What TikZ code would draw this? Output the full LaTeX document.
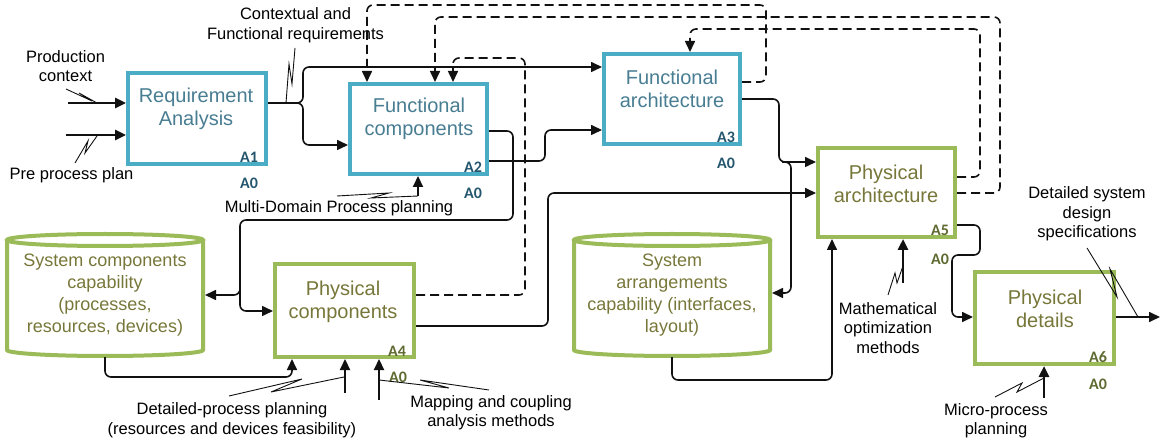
\documentclass[tikz,border=0pt]{standalone}
\usepackage{fontspec}
\setmainfont{Liberation Sans}
\newfontfamily\idfont{Carlito}
\usetikzlibrary{arrows.meta}
\definecolor{boxblue}{HTML}{4BACC6}
\definecolor{boxgreen}{HTML}{9BBB59}
\definecolor{txtblue}{HTML}{487D92}
\definecolor{txtgreen}{HTML}{77773A}
\definecolor{idblue}{HTML}{24566E}
\definecolor{idgreen}{HTML}{5E6A30}
\definecolor{linec}{HTML}{111111}
\begin{document}
\begin{tikzpicture}[x=1pt,y=-1pt,
  bluebox/.style={draw=boxblue,line width=4pt,inner sep=0pt,fill=white},
  greenbox/.style={draw=boxgreen,line width=4pt,inner sep=0pt,fill=white},
  cylline/.style={draw=boxgreen,line width=4pt},
  btext/.style={text=txtblue,align=center,inner sep=0pt,font=\fontsize{20}{23}\selectfont},
  gtext/.style={text=txtgreen,align=center,inner sep=0pt,font=\fontsize{20}{23}\selectfont},
  ctext/.style={text=txtgreen,align=center,inner sep=0pt,font=\fontsize{18}{22}\selectfont},
  lbl/.style={text=black,align=center,inner sep=0pt,font=\fontsize{16.5}{19.5}\selectfont},
  idb/.style={text=idblue,inner sep=0pt,font=\idfont\bfseries\fontsize{16}{16}\selectfont},
  idg/.style={text=idgreen,inner sep=0pt,font=\idfont\bfseries\fontsize{16}{16}\selectfont},
  conn/.style={draw=linec,line width=1.6pt,rounded corners=6pt},
  thickline/.style={line width=2.6pt},
  dconn/.style={conn,dash pattern=on 9pt off 5pt},
  tip/.style={-{Triangle[length=11pt,width=10pt]}},
  squig/.style={draw=linec,line width=0.9pt}
]
\useasboundingbox (0,0) rectangle (1161,443);

% ---------- boxes ----------
\node[bluebox,minimum width=138pt,minimum height=91pt] (a1) at (197,118.5) {};
\node[bluebox,minimum width=137pt,minimum height=90pt] (a2) at (418.5,129) {};
\node[bluebox,minimum width=136pt,minimum height=90pt] (a3) at (672,99) {};
\node[greenbox,minimum width=139pt,minimum height=93pt] (a4) at (344.5,310.5) {};
\node[greenbox,minimum width=137pt,minimum height=89pt] (a5) at (886.5,192.5) {};
\node[greenbox,minimum width=139pt,minimum height=92pt] (a6) at (1044.5,318) {};

\node[btext] (a1t) at (196,108.5) {Requirement\\Analysis};
\node[btext] (a2t) at (419,119) {Functional\\components};
\node[btext] (a3t) at (672,88.5) {Functional\\architecture};
\node[gtext] (a4t) at (343,301.5) {Physical\\components};
\node[gtext] (a5t) at (886,183.5) {Physical\\architecture};
\node[gtext] (a6t) at (1045,308.5) {Physical\\details};

\node[idb] (a1id) at (249,157) {A1};
\node[idb] (a1a0) at (249,183) {A0};
\node[idb] (a2id) at (473,167) {A2};
\node[idb] (a2a0) at (473,193) {A0};
\node[idb] (a3id) at (726,137) {A3};
\node[idb] (a3a0) at (726,163) {A0};
\node[idg] (a4id) at (397,351) {A4};
\node[idg] (a4a0) at (398,377) {A0};
\node[idg] (a5id) at (940,230) {A5};
\node[idg] (a5a0) at (940,259) {A0};
\node[idg] (a6id) at (1098,357) {A6};
\node[idg] (a6a0) at (1098,384) {A0};

% ---------- cylinders ----------
\draw[cylline] (7,240) -- (7,350) arc[start angle=180,end angle=360,x radius=98pt,y radius=6pt] -- (203,240);
\draw[cylline] (105,240) ellipse[x radius=98pt,y radius=6pt];
\node[ctext] (cyl1) at (105,295) {System components\\capability\\(processes,\\resources, devices)};
\coordinate (cyl1e) at (205,295);
\coordinate (cyl1s) at (105,357);

\draw[cylline] (574,240) -- (574,350) arc[start angle=180,end angle=360,x radius=98pt,y radius=6pt] -- (770,240);
\draw[cylline] (672,240) ellipse[x radius=98pt,y radius=6pt];
\node[ctext] (cyl2) at (672,295.5) {System\\arrangements\\capability (interfaces,\\layout)};
\coordinate (cyl2e) at (772,293);
\coordinate (cyl2s) at (672,357);

% ---------- labels ----------
\node[lbl] (lpc) at (65.5,66) {Production\\context};
\node[lbl] (lpp) at (71.5,175) {Pre process plan};
\node[lbl] (lcf) at (295.5,25) {Contextual and\\Functional requirements};
\node[lbl] (lmd) at (339,208) {Multi-Domain Process planning};
\node[lbl] (ldp) at (232,420) {Detailed-process planning\\(resources and devices feasibility)};
\node[lbl] (lmc) at (491,412.5) {Mapping and coupling\\analysis methods};
\node[lbl] (lmo) at (888,328) {Mathematical\\optimization\\methods};
\node[lbl] (lds) at (1087,214) {Detailed system\\design\\specifications};
\node[lbl] (lmp) at (996,420.5) {Micro-process\\planning};

% ---------- inputs ----------
\coordinate (pc) at (68,103);
\coordinate (pp) at (66,135);
\draw[conn,thickline,tip] (pc) -- (a1.west |- pc);
\draw[conn,thickline,tip] (pp) -- (a1.west |- pp);

% ---------- solid connectors ----------
\coordinate (f1) at (303,103);
\draw[conn,tip] (a1.east |- f1) -- (f1) -- (303,67) -- (a3.west |- 0,67);
\draw[conn,tip] (a1.east |- f1) -- (f1) -- (303,145) -- (a2.west |- 0,145);

\draw[conn,tip] (a2.east |- 0,161) -- (545,161) -- (545,130) -- (a3.west |- 0,130);

\coordinate (f2) at (240,288);
\draw[conn,tip] (a2.east |- 0,131) -- (513,131) -- (513,220) -- (240,220) -- (f2 |- cyl1e) -- (cyl1e);
\draw[conn,tip] (f2) -- (240,311) -- (a4.west |- 0,311);

\coordinate (f3) at (782,162);
\draw[conn,tip] (a3.east |- 0,99) -- (779,99) -- (779,162) -- (a5.west |- 0,162);
\draw[conn,tip] (f3) -- (791,162) -- (791,293) -- (cyl2e);

\draw[conn,tip] (a4.east |- 0,326) -- (548,326) -- (548,193) -- (a5.west |- 0,193);

\draw[conn,tip] (cyl2s) -- (672,380) -- (832,380) -- (a5.south -| 832,0);
\draw[conn,tip] (cyl1s) -- (105,377) -- (292,377) -- (a4.south -| 292,0);

\draw[conn,tip] (a5.east |- 0,225) -- (980,225) -- (980,255) -- (952,255) -- (952,317) -- (a6.west |- 0,317);
\coordinate (out6) at (1160,317);
\draw[conn,tip] (a6.east |- out6) -- (out6);

% ---------- mechanism / control arrows ----------
\coordinate (mo) at (903,283);
\coordinate (mp) at (1044,398);
\coordinate (dp) at (345,393);
\coordinate (mc) at (379,400);
\coordinate (md) at (418,196);
\draw[conn,thickline,tip] (mo) -- (a5.south -| mo);
\draw[conn,thickline,tip] (mp) -- (a6.south -| mp);
\draw[conn,line width=2.2pt,tip] (dp) -- (a4.south -| dp);
\draw[conn,line width=2.2pt,tip] (mc) -- (a4.south -| mc);
\draw[conn,line width=2pt,tip] (md) -- (a2.south -| md);

% ---------- dashed feedback ----------
\draw[dconn,tip] (a3.east |- 0,82) -- (766,82) -- (766,5) -- (367,5) -- (a2.north -| 367,0);
\draw[dconn,tip] (a5.east |- 0,193) -- (1000,193) -- (1000,17) -- (435,17) -- (a2.north -| 435,0);
\draw[dconn,tip] (a5.east |- 0,177) -- (980,177) -- (980,29) -- (690,29) -- (a3.north -| 690,0);
\draw[dconn,tip] (a4.east |- 0,295) -- (525,295) -- (525,58) -- (453,58) -- (a2.north -| 453,0);

% ---------- squiggles ----------
\draw[squig] (66,89) -- (92,101) -- (79,93) -- (97,103);
\draw[squig] (75,163) -- (88,141) -- (85,153) -- (97,136);
\draw[squig] (295,48) -- (292,84) -- (289,64) -- (286,103);
\draw[squig] (337,196) -- (389,193) -- (371,198) -- (md);
\draw[squig] (229,396) -- (302,379) -- (271,392) -- (344,377);
\draw[squig] (489,390) -- (420,380) -- (449,388) -- (379,380);
\draw[squig] (888,295) -- (895,273) -- (897,283) -- (903,266);
\draw[squig] (995,397) -- (1022,383) -- (1017,392) -- (1044,378);
\draw[squig] (1087,248) -- (1117,297) -- (1110,269) -- (1138,317);
\end{tikzpicture}
\end{document}
